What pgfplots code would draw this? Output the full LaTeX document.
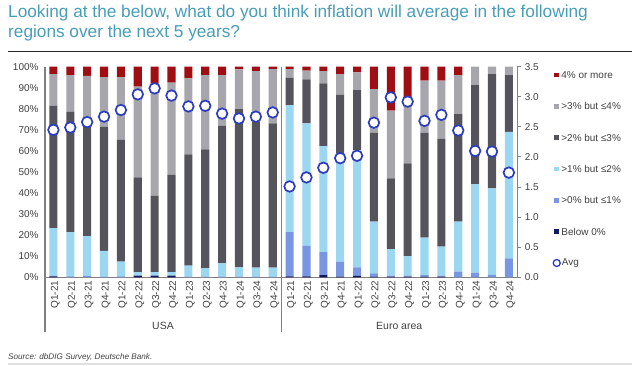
\documentclass[border=0pt]{standalone}
\usepackage{fontspec}
\setmainfont{Liberation Sans}
\usepackage{pgfplots}
\pgfplotsset{compat=1.18}
\usepackage{pgfplotstable}

\definecolor{cRed}{RGB}{160,14,20}
\definecolor{cLGray}{RGB}{166,166,172}
\definecolor{cDGray}{RGB}{85,84,92}
\definecolor{cLBlue}{RGB}{155,215,240}
\definecolor{cMBlue}{RGB}{120,150,225}
\definecolor{cNavy}{RGB}{15,25,100}
\definecolor{cAvg}{RGB}{45,60,190}
\definecolor{cTitle}{RGB}{72,157,182}
\definecolor{cAxis}{RGB}{128,128,128}
\definecolor{cText}{RGB}{64,64,64}

% USA: x, Below 0%, >0-1, >1-2, >2-3, >3-4, 4%+, Avg
\pgfplotstableread{
x b0 b1 b2 b3 b4 b5 avg
0 0.4 0.4 22.5 58.2 15.0 3.5 2.45
1 0.0 0.5 20.9 57.2 17.4 4.0 2.49
2 0.0 0.6 19.0 52.4 23.6 4.4 2.58
3 0.0 0.3 12.2 59.0 23.5 5.0 2.67
4 0.0 0.5 6.9 57.8 29.8 5.0 2.78
5 0.8 0.0 1.7 45.0 43.0 9.5 3.04
6 0.8 0.0 1.7 36.3 53.2 8.0 3.14
7 0.8 0.0 1.7 46.1 43.8 7.6 3.02
8 0.0 0.3 5.2 52.9 36.1 5.5 2.84
9 0.0 0.3 4.0 56.5 35.2 4.0 2.85
10 0.0 0.3 6.3 65.4 24.0 4.0 2.72
11 0.0 0.3 4.4 75.2 18.8 1.3 2.64
12 0.0 0.3 4.3 69.4 23.9 2.1 2.67
13 0.0 0.3 4.3 68.5 25.8 1.1 2.74
}\usa
% Euro area
\pgfplotstableread{
x b0 b1 b2 b3 b4 b5 avg
14 0.5 20.9 60.4 13.0 4.1 1.1 1.51
15 0.5 14.4 58.2 20.9 4.1 1.9 1.66
16 1.0 10.9 50.4 29.8 5.8 2.1 1.82
17 0.3 7.1 51.4 27.8 9.9 3.5 1.98
18 0.7 4.0 55.6 28.6 8.4 2.7 2.02
19 0.3 1.6 24.5 42.3 20.7 10.6 2.57
20 0.3 0.5 12.6 33.6 32.1 20.9 2.99
21 0.3 0.5 9.3 44.0 28.9 17.0 2.92
22 0.3 0.7 17.8 49.9 24.7 6.6 2.60
23 0.3 0.5 13.8 51.1 27.7 6.6 2.70
24 0.0 2.7 23.7 51.1 18.5 4.0 2.44
25 0.0 2.2 42.1 47.0 8.7 0.0 2.10
26 0.0 1.1 41.1 54.3 3.5 0.0 2.09
27 0.0 9.0 60.1 26.9 4.0 0.0 1.74
}\euro
\pgfplotstablevertcat{\usa}{\euro}

\begin{document}
\begin{tikzpicture}[x=1bp,y=1bp]
\useasboundingbox (0,0) rectangle (640,365);
% title
\node[anchor=base west, text=cTitle, font=\fontsize{17.3}{20}\selectfont, inner sep=0] at (8,347.5) {Looking at the below, what do you think inflation will average in the following};
\node[anchor=base west, text=cTitle, font=\fontsize{17.3}{20}\selectfont, inner sep=0] at (8,327.5) {regions over the next 5 years?};
\draw[black!85, line width=1.3bp] (8,313.3) -- (632,313.3);

\begin{axis}[
  at={(45bp,87.7bp)}, anchor=south west,
  scale only axis, width=472.3bp, height=210.6bp,
  xmin=-0.5, xmax=27.5, ymin=0, ymax=100,
  ybar stacked, bar width=0.48,
  axis x line*=bottom, axis y line*=left,
  axis line style={cAxis, line width=1.2bp},
  xtick={0,...,27},
  xticklabels={Q1-21,Q2-21,Q3-21,Q4-21,Q1-22,Q2-22,Q3-22,Q4-22,Q1-23,Q2-23,Q4-23,Q1-24,Q3-24,Q4-24,
               Q1-21,Q2-21,Q3-21,Q4-21,Q1-22,Q2-22,Q3-22,Q4-22,Q1-23,Q2-23,Q4-23,Q1-24,Q3-24,Q4-24},
  x tick label style={rotate=90, anchor=east, font=\fontsize{10}{12}\selectfont, text=cText, yshift=-2bp},
  ytick={0,10,...,100},
  yticklabel={\pgfmathprintnumber{\tick}\%},
  y tick label style={font=\fontsize{10}{12}\selectfont, text=cText, xshift=-3bp},
  xtick style={draw=none}, ytick style={draw=none},
  /pgf/number format/assume math mode=true,
  clip=false,
  every axis plot/.append style={draw=none},
]
\addplot[fill=cNavy] table[x=x,y=b0]{\usa};
\addplot[fill=cMBlue] table[x=x,y=b1]{\usa};
\addplot[fill=cLBlue] table[x=x,y=b2]{\usa};
\addplot[fill=cDGray] table[x=x,y=b3]{\usa};
\addplot[fill=cLGray] table[x=x,y=b4]{\usa};
\addplot[fill=cRed] table[x=x,y=b5]{\usa};
\end{axis}

\begin{axis}[
  at={(45bp,87.7bp)}, anchor=south west,
  scale only axis, width=472.3bp, height=210.6bp,
  xmin=-0.5, xmax=27.5, ymin=0, ymax=3.5,
  axis x line=none, axis y line*=right,
  axis line style={cAxis, line width=1.2bp},
  ytick={0,0.5,...,3.5},
  /pgf/number format/fixed, /pgf/number format/fixed zerofill, /pgf/number format/precision=1,
  y tick label style={font=\fontsize{10}{12}\selectfont, text=cText},
  tick align=outside, major tick length=4bp,
  ytick style={cAxis, line width=1bp},
  /pgf/number format/assume math mode=true,
  clip=false,
]
\addplot[only marks, mark=*, mark size=5.3bp, mark options={fill=white, draw=cAvg, line width=1.7bp}] table[x=x,y=avg]{\usa};
\end{axis}

% group separators and labels
\draw[cAxis, line width=1.2bp] (45,87.7) -- (45,33.3);
\draw[cAxis, line width=1.2bp] (281.2,298.3) -- (281.2,33.3);
\node[font=\fontsize{10.5}{12}\selectfont, text=cText] at (163,39) {USA};
\node[font=\fontsize{10.5}{12}\selectfont, text=cText] at (399.2,39) {Euro area};

% legend
\def\lx{556.7}
\foreach \yy/\cc/\tt in {290/cRed/{4\% or more}, 258.7/cLGray/{>3\% but ≤4\%}, 227.3/cDGray/{>2\% but ≤3\%}, 196/cLBlue/{>1\% but ≤2\%}, 164.7/cMBlue/{>0\% but ≤1\%}, 133.3/cNavy/{Below 0\%}}{
  \fill[\cc] (\lx-2.3,\yy-2.3) rectangle (\lx+2.3,\yy+2.3);
  \node[anchor=west, inner sep=0, font=\fontsize{10}{12}\selectfont, text=cText] at (\lx+4.5,\yy) {\tt};
}
\draw[cAvg, line width=1.3bp, fill=white] (\lx,102) circle (3.5);
\node[anchor=west, inner sep=0, font=\fontsize{10}{12}\selectfont, text=cText] at (\lx+5,102) {Avg};

% source
\node[anchor=base west, inner sep=0, font=\itshape\fontsize{8.2}{10}\selectfont, text=cText] at (8,5.5) {Source: dbDIG Survey, Deutsche Bank.};
\fill[black!12] (8,0) rectangle (632,2.5);
\end{tikzpicture}
\end{document}
